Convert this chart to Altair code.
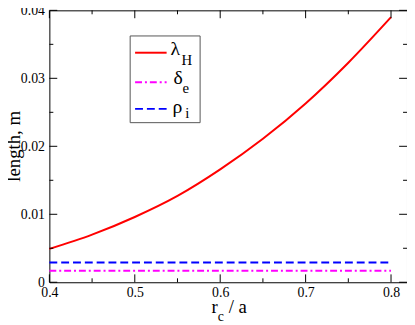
import altair as alt
import pandas as pd

# ---- data ----
rc = [0.40, 0.45, 0.50, 0.55, 0.60, 0.65, 0.70, 0.75, 0.80]
lambda_H = [0.0049, 0.0070, 0.0096, 0.0127, 0.0166, 0.0211, 0.0263, 0.0323, 0.0390]
rc_flat = [0.40, 0.80]
delta_e = [0.0017, 0.0017]
rho_i = [0.0029, 0.0029]

x_major = [0.4, 0.5, 0.6, 0.7, 0.8]
x_minor = [0.45, 0.55, 0.65, 0.75]
y_major = [0.0, 0.01, 0.02, 0.03, 0.04]
y_minor = [0.005, 0.015, 0.025, 0.035]
x_domain = [0.4, 0.8187]
y_domain = [0.0, 0.04]

W, H = 363, 276
FONT = "Liberation Serif, Times New Roman, DejaVu Serif, serif"

xs = alt.Scale(domain=x_domain, nice=False, zero=False)
ys = alt.Scale(domain=y_domain, nice=False, zero=False)

xaxis = alt.Axis(values=x_major, format=".1f", ticks=False, domain=False, grid=False,
                 labelFont=FONT, labelFontSize=14, labelColor="black", labelPadding=3,
                 labelFlush=False, title=None)
yaxis = alt.Axis(values=y_major, ticks=False, domain=False, grid=False,
                 labelExpr="datum.value == 0 ? '0' : format(datum.value, '.2f')",
                 labelFont=FONT, labelFontSize=14, labelColor="black", labelPadding=5,
                 labelFlush=False, title=None)

df_l = pd.DataFrame({"rc": rc, "v": lambda_H})
df_d = pd.DataFrame({"rc": rc_flat, "v": delta_e})
df_r = pd.DataFrame({"rc": rc_flat, "v": rho_i})


def X(field):
    return alt.X(field, scale=xs, axis=xaxis)


def Y(field):
    return alt.Y(field, scale=ys, axis=yaxis)


line_l = alt.Chart(df_l).mark_line(color="#ff0000", strokeWidth=2, interpolate="monotone").encode(
    x=X("rc:Q"), y=Y("v:Q"))
line_d = alt.Chart(df_d).mark_line(color="#ff00ff", strokeWidth=2, strokeDash=[7, 3, 2, 3]).encode(
    x=X("rc:Q"), y=Y("v:Q"))
line_r = alt.Chart(df_r).mark_line(color="#0000ff", strokeWidth=2, strokeDash=[8, 4]).encode(
    x=X("rc:Q"), y=Y("v:Q"))


def xticks(vals, y0, y1):
    return alt.Chart(pd.DataFrame({"t": vals})).mark_rule(color="black", strokeWidth=1).encode(
        x=X("t:Q"), y=alt.value(y0), y2=alt.value(y1))


def yticks(vals, x0, x1):
    return alt.Chart(pd.DataFrame({"t": vals})).mark_rule(color="black", strokeWidth=1).encode(
        y=Y("t:Q"), x=alt.value(x0), x2=alt.value(x1))


ticks = [
    xticks(x_major, H, H - 8), xticks(x_minor, H, H - 4),
    xticks(x_major, 0, 8), xticks(x_minor, 0, 4),
    yticks(y_major, 0, 8), yticks(y_minor, 0, 4),
    yticks(y_major, W, W - 8), yticks(y_minor, W, W - 4),
]


def txt(s, x, y, size, align="left", angle=0, baseline="alphabetic"):
    return alt.Chart(pd.DataFrame({"s": [s]})).mark_text(
        font=FONT, fontSize=size, color="black", align=align, baseline=baseline, angle=angle
    ).encode(text="s:N", x=alt.value(x), y=alt.value(y))


def seg(x0, x1, y, color, dash):
    kw = dict(color=color, strokeWidth=2)
    if dash:
        kw["strokeDash"] = dash
    return alt.Chart(pd.DataFrame({"a": [0]})).mark_rule(**kw).encode(
        x=alt.value(x0), x2=alt.value(x1), y=alt.value(y))


legend_box = alt.Chart(pd.DataFrame({"a": [0]})).mark_rect(
    fill="white", stroke="#555555", strokeWidth=1).encode(
    x=alt.value(82), x2=alt.value(153), y=alt.value(26), y2=alt.value(114))

legend = [
    legend_box,
    seg(87, 119, 43, "#ff0000", None),
    seg(87, 119, 73, "#ff00ff", [7, 3, 2, 3]),
    seg(87, 119, 100, "#0000ff", [8, 4]),
    txt("λ", 123, 45, 20), txt("H", 134, 55, 15),
    txt("δ", 126, 75, 20), txt("e", 135, 84, 15),
    txt("ρ", 125, 104, 20), txt("i", 138, 109, 15),
]

titles = [
    txt("length, m", -36, H / 2, 19, align="center", angle=270, baseline="middle"),
    txt("r", 171, H + 31, 19, align="right"),
    txt("c", 171, H + 39, 14),
    txt("/ a", 182, H + 31, 19),
]

chart = alt.layer(line_l, line_d, line_r, *ticks, *legend, *titles).properties(
    width=W, height=H,
    autosize=alt.AutoSizeParams(type="none"),
    padding={"left": 42, "top": 0, "right": 0, "bottom": 41},
).configure_view(stroke="black", strokeWidth=1)

chart.save("out.html", embed_options={"renderer": "svg", "actions": False})
